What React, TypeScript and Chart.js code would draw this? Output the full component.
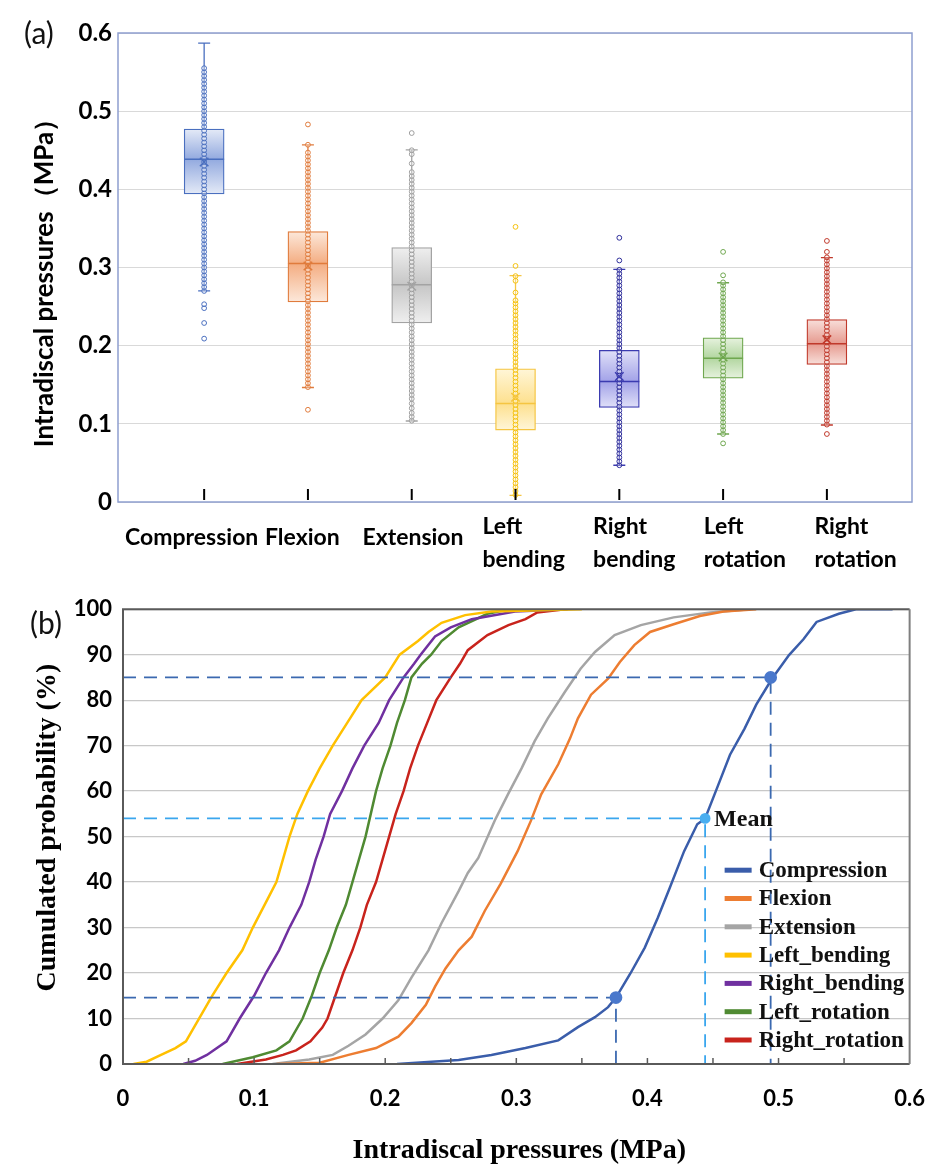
import React, { useEffect, useRef } from 'react';
import { Chart, registerables } from 'chart.js';
Chart.register(...registerables);

// ---------- Panel (a): box plots ----------
const categories = ['Compression', 'Flexion', 'Extension', 'Left bending', 'Right bending', 'Left rotation', 'Right rotation'];
const q1 = [0.394, 0.256, 0.229, 0.092, 0.121, 0.1585, 0.176];
const medians = [0.4385, 0.305, 0.278, 0.126, 0.154, 0.184, 0.2026];
const q3 = [0.477, 0.346, 0.3255, 0.1705, 0.194, 0.21, 0.2334];
const whiskerLo = [0.27, 0.1465, 0.1036, 0.0086, 0.047, 0.087, 0.0985];
const whiskerHi = [0.587, 0.457, 0.4505, 0.2895, 0.2977, 0.2805, 0.3126];
const means = [0.435, 0.302, 0.276, 0.134, 0.1606, 0.1854, 0.2077];

const ptsCompression = [0.209, 0.229, 0.248, 0.253, 0.27, 0.275, 0.28, 0.285, 0.29, 0.295, 0.3, 0.305, 0.31, 0.315, 0.32, 0.325, 0.33, 0.335, 0.34, 0.345, 0.35, 0.355, 0.36, 0.365, 0.37, 0.375, 0.38, 0.385, 0.39, 0.395, 0.4, 0.405, 0.41, 0.415, 0.42, 0.425, 0.43, 0.435, 0.44, 0.445, 0.45, 0.455, 0.46, 0.465, 0.47, 0.475, 0.48, 0.485, 0.49, 0.495, 0.5, 0.505, 0.51, 0.515, 0.52, 0.525, 0.53, 0.535, 0.54, 0.545, 0.55, 0.555];
const ptsFlexion = [0.118, 0.147, 0.152, 0.157, 0.162, 0.167, 0.172, 0.177, 0.182, 0.187, 0.192, 0.197, 0.202, 0.207, 0.212, 0.217, 0.222, 0.227, 0.232, 0.237, 0.242, 0.247, 0.252, 0.257, 0.262, 0.267, 0.272, 0.277, 0.282, 0.287, 0.292, 0.297, 0.302, 0.307, 0.312, 0.317, 0.322, 0.327, 0.332, 0.337, 0.342, 0.347, 0.352, 0.357, 0.362, 0.367, 0.372, 0.377, 0.382, 0.387, 0.392, 0.397, 0.402, 0.407, 0.412, 0.417, 0.422, 0.427, 0.432, 0.437, 0.442, 0.447, 0.457, 0.483];
const ptsExtension = [0.104, 0.109, 0.114, 0.12, 0.126, 0.132, 0.137, 0.142, 0.147, 0.152, 0.157, 0.162, 0.167, 0.172, 0.177, 0.182, 0.187, 0.192, 0.197, 0.202, 0.207, 0.212, 0.217, 0.222, 0.227, 0.232, 0.237, 0.242, 0.247, 0.252, 0.257, 0.262, 0.267, 0.272, 0.277, 0.282, 0.287, 0.292, 0.297, 0.302, 0.307, 0.312, 0.317, 0.322, 0.327, 0.332, 0.337, 0.342, 0.347, 0.352, 0.357, 0.362, 0.367, 0.372, 0.377, 0.382, 0.387, 0.392, 0.397, 0.402, 0.407, 0.412, 0.417, 0.422, 0.433, 0.445, 0.45, 0.472];
const ptsLeftBending = [0.009, 0.014, 0.019, 0.024, 0.029, 0.034, 0.039, 0.044, 0.049, 0.054, 0.059, 0.064, 0.069, 0.074, 0.079, 0.084, 0.089, 0.094, 0.099, 0.104, 0.109, 0.114, 0.119, 0.124, 0.129, 0.134, 0.139, 0.144, 0.149, 0.154, 0.159, 0.164, 0.169, 0.174, 0.179, 0.184, 0.189, 0.194, 0.199, 0.204, 0.209, 0.214, 0.219, 0.224, 0.229, 0.234, 0.239, 0.244, 0.249, 0.254, 0.258, 0.268, 0.283, 0.289, 0.302, 0.352];
const ptsRightBending = [0.047, 0.052, 0.057, 0.062, 0.067, 0.072, 0.077, 0.082, 0.087, 0.092, 0.097, 0.102, 0.107, 0.112, 0.117, 0.122, 0.127, 0.132, 0.137, 0.142, 0.147, 0.152, 0.157, 0.162, 0.167, 0.172, 0.177, 0.182, 0.187, 0.192, 0.197, 0.202, 0.207, 0.212, 0.217, 0.222, 0.227, 0.232, 0.237, 0.242, 0.247, 0.252, 0.257, 0.262, 0.267, 0.272, 0.277, 0.282, 0.287, 0.292, 0.297, 0.309, 0.338];
const ptsLeftRotation = [0.075, 0.087, 0.092, 0.097, 0.102, 0.107, 0.112, 0.117, 0.122, 0.127, 0.132, 0.137, 0.142, 0.147, 0.152, 0.157, 0.162, 0.167, 0.172, 0.177, 0.182, 0.187, 0.192, 0.197, 0.202, 0.207, 0.212, 0.217, 0.222, 0.227, 0.232, 0.237, 0.242, 0.247, 0.252, 0.257, 0.262, 0.267, 0.272, 0.277, 0.281, 0.29, 0.32];
const ptsRightRotation = [0.087, 0.099, 0.104, 0.109, 0.114, 0.119, 0.124, 0.129, 0.134, 0.139, 0.144, 0.149, 0.154, 0.159, 0.164, 0.169, 0.174, 0.179, 0.184, 0.189, 0.194, 0.199, 0.204, 0.209, 0.214, 0.219, 0.224, 0.229, 0.234, 0.239, 0.244, 0.249, 0.254, 0.259, 0.264, 0.269, 0.274, 0.279, 0.284, 0.289, 0.294, 0.299, 0.304, 0.309, 0.313, 0.32, 0.334];
const pointSets = [ptsCompression, ptsFlexion, ptsExtension, ptsLeftBending, ptsRightBending, ptsLeftRotation, ptsRightRotation];
const yTicksA = [0, 0.1, 0.2, 0.3, 0.4, 0.5, 0.6];
const yTitleA = 'Intradiscal pressures（MPa）';

// ---------- Panel (b): cumulative probability ----------
const cdfCompression = [[0.209, 0], [0.256, 0.9], [0.281, 2], [0.307, 3.5], [0.332, 5.2], [0.347, 8.1], [0.36, 10.3], [0.37, 12.5], [0.376, 14.6], [0.387, 19.9], [0.398, 25.6], [0.408, 32.2], [0.417, 38.7], [0.428, 46.8], [0.438, 52.7], [0.444, 54], [0.453, 60.6], [0.463, 68], [0.474, 73.7], [0.483, 79], [0.495, 84.7], [0.508, 89.9], [0.519, 93.4], [0.529, 97.2], [0.546, 99], [0.559, 100], [0.587, 100]];
const cdfFlexion = [[0.117, 0], [0.15, 0.3], [0.172, 2], [0.193, 3.5], [0.21, 6], [0.22, 9], [0.231, 13], [0.238, 17], [0.246, 21], [0.256, 25], [0.266, 28], [0.276, 33.7], [0.288, 39.6], [0.301, 46.8], [0.311, 53.4], [0.319, 59.3], [0.332, 65.9], [0.341, 71.6], [0.347, 76], [0.357, 81.2], [0.37, 84.7], [0.379, 88.4], [0.39, 92.1], [0.402, 95], [0.42, 96.7], [0.44, 98.5], [0.458, 99.5], [0.483, 100]];
const cdfExtension = [[0.114, 0], [0.142, 1], [0.16, 2], [0.172, 4], [0.185, 6.5], [0.198, 10], [0.21, 14], [0.22, 19], [0.233, 25], [0.243, 31], [0.256, 38], [0.263, 42], [0.271, 45.3], [0.284, 53.8], [0.294, 59.5], [0.304, 65], [0.314, 71], [0.324, 76], [0.337, 81.8], [0.349, 86.9], [0.36, 90.6], [0.375, 94.3], [0.395, 96.5], [0.42, 98.2], [0.448, 99.3], [0.478, 100]];
const cdfLeftBending = [[0.008, 0], [0.018, 0.5], [0.029, 2], [0.04, 3.5], [0.048, 5], [0.058, 10], [0.068, 15], [0.079, 20], [0.091, 25], [0.099, 30], [0.108, 35], [0.117, 40], [0.122, 45], [0.127, 50], [0.133, 55], [0.141, 60], [0.15, 65], [0.16, 70], [0.171, 75], [0.182, 80], [0.2, 85], [0.211, 90], [0.225, 93], [0.233, 95], [0.243, 97], [0.261, 98.7], [0.281, 99.5], [0.35, 100]];
const cdfRightBending = [[0.046, 0], [0.055, 0.7], [0.064, 2], [0.079, 5], [0.089, 10], [0.1, 15], [0.109, 20], [0.119, 25], [0.127, 30], [0.136, 35], [0.142, 40], [0.147, 45], [0.153, 50], [0.158, 55], [0.167, 60], [0.175, 65], [0.184, 70], [0.195, 75], [0.203, 80], [0.214, 85], [0.222, 88], [0.227, 90], [0.238, 94], [0.25, 96], [0.266, 97.8], [0.299, 99.5], [0.339, 100]];
const cdfLeftRotation = [[0.076, 0], [0.099, 1.5], [0.117, 3], [0.127, 5], [0.137, 10], [0.144, 15], [0.15, 20], [0.157, 25], [0.163, 30], [0.17, 35], [0.175, 40], [0.18, 45], [0.185, 50], [0.189, 55], [0.193, 60], [0.198, 65], [0.204, 70], [0.209, 75], [0.215, 80], [0.22, 85], [0.228, 88], [0.235, 90], [0.243, 93], [0.256, 96], [0.278, 99], [0.29, 99.7], [0.32, 100]];
const cdfRightRotation = [[0.087, 0], [0.109, 1], [0.122, 2], [0.132, 3], [0.143, 5], [0.152, 8], [0.156, 10], [0.162, 15], [0.168, 20], [0.175, 25], [0.181, 30], [0.186, 35], [0.193, 40], [0.198, 45], [0.203, 50], [0.208, 55], [0.214, 60], [0.219, 65], [0.225, 70], [0.232, 75], [0.239, 80], [0.25, 85], [0.257, 88], [0.263, 91], [0.278, 94.3], [0.294, 96.5], [0.307, 97.8], [0.316, 99.3], [0.337, 100]];
const seriesNames = ['Compression', 'Flexion', 'Extension', 'Left_bending', 'Right_bending', 'Left_rotation', 'Right_rotation'];
const cdfSets = [cdfCompression, cdfFlexion, cdfExtension, cdfLeftBending, cdfRightBending, cdfLeftRotation, cdfRightRotation];
const markerX = [0.376, 0.444, 0.494];
const markerP = [14.6, 54, 85];
const markerIsMean = [false, true, false];
const xTicksB = [0, 0.1, 0.2, 0.3, 0.4, 0.5, 0.6];
const minorTicksB = [0.05, 0.1, 0.15, 0.2, 0.25, 0.3, 0.35, 0.4, 0.45, 0.5, 0.55];
const xTitleB = 'Intradiscal pressures (MPa)';
const yTitleB = 'Cumulated probability (%)';

const SANS = 'Lato, "Open Sans", "Noto Sans", sans-serif';
const SERIF = '"Liberation Serif", "Times New Roman", serif';

const boxStyles = [
  { line: '#4a6fbf', light: '#e4eaf7', mid: '#93aadf', point: '#4a6fbf' },
  { line: '#e07b3c', light: '#fce8da', mid: '#f4ad82', point: '#e07b3c' },
  { line: '#a3a3a3', light: '#efefef', mid: '#c6c6c6', point: '#9e9e9e' },
  { line: '#f5c542', light: '#fff6d8', mid: '#fde08e', point: '#f5c20f' },
  { line: '#3b3bb0', light: '#e0e0f8', mid: '#a2a2e8', point: '#2e2e9a' },
  { line: '#6fa74f', light: '#e6f2de', mid: '#b2d6a0', point: '#6fa74f' },
  { line: '#c0392b', light: '#f8dfda', mid: '#e69a8f', point: '#c0392b' },
];
const lineColors = ['#3a5daa', '#ed7d31', '#a5a5a5', '#ffc000', '#7030a0', '#4f8a32', '#c8231c'];

const fmt = (v: any) => (Number(v) === 0 ? '0' : Number(v).toFixed(1));

function BoxChart() {
  const ref = useRef<HTMLCanvasElement>(null);
  useEffect(() => {
    const canvas = ref.current!;
    const boxPlugin = {
      id: 'boxExtras',
      beforeDatasetsDraw(chart: any) {
        const { ctx, scales: { x, y } } = chart;
        ctx.save();
        categories.forEach((_, i) => {
          const px = x.getPixelForValue(i);
          const top = y.getPixelForValue(whiskerHi[i]);
          const bot = y.getPixelForValue(whiskerLo[i]);
          ctx.strokeStyle = boxStyles[i].line;
          ctx.lineWidth = 1.3;
          ctx.beginPath();
          ctx.moveTo(px, top); ctx.lineTo(px, bot);
          ctx.moveTo(px - 6, top); ctx.lineTo(px + 6, top);
          ctx.moveTo(px - 6, bot); ctx.lineTo(px + 6, bot);
          ctx.stroke();
        });
        ctx.restore();
      },
      afterDatasetsDraw(chart: any) {
        const { ctx, scales: { x, y } } = chart;
        ctx.save();
        categories.forEach((_, i) => {
          const px = x.getPixelForValue(i);
          const py = y.getPixelForValue(medians[i]);
          ctx.strokeStyle = boxStyles[i].line;
          ctx.lineWidth = 1.5;
          ctx.beginPath();
          ctx.moveTo(px - 20, py); ctx.lineTo(px + 20, py);
          ctx.stroke();
        });
        ctx.restore();
      },
      afterDraw(chart: any) {
        const { ctx, chartArea: a, scales: { x } } = chart;
        ctx.save();
        ctx.strokeStyle = '#8e9fcf';
        ctx.lineWidth = 1.5;
        ctx.strokeRect(a.left, a.top, a.right - a.left, a.bottom - a.top);
        ctx.strokeStyle = '#000';
        ctx.lineWidth = 2;
        categories.forEach((_, i) => {
          const px = x.getPixelForValue(i);
          ctx.beginPath();
          ctx.moveTo(px, a.bottom - 2);
          ctx.lineTo(px, a.bottom - 13);
          ctx.stroke();
        });
        ctx.fillStyle = '#000';
        ctx.font = `bold 23px ${SANS}`;
        ctx.textBaseline = 'middle';
        ctx.textAlign = 'left';
        categories.forEach((c, i) => {
          const lines = c.split(' ');
          const cx = x.getPixelForValue(i * 1.066 - 0.12);
          const w = Math.max(...lines.map((l) => ctx.measureText(l).width));
          const x0 = cx - w / 2;
          if (lines.length === 1) ctx.fillText(lines[0], x0, a.bottom + 36);
          else lines.forEach((l, k) => ctx.fillText(l, x0, a.bottom + 25 + k * 33));
        });
        // y title
        ctx.save();
        ctx.translate(45, (a.top + a.bottom) / 2 + 9);
        ctx.rotate(-Math.PI / 2);
        ctx.textAlign = 'center';
        ctx.font = `bold 26px ${SANS}`;
        ctx.fillText(yTitleA, 0, 0);
        ctx.restore();
        ctx.restore();
      },
    };
    const chart = new Chart(canvas, {
      type: 'bar',
      data: {
        datasets: [
          {
            type: 'bar',
            label: 'IQR',
            data: categories.map((_, i) => ({ x: i, y: [q1[i], q3[i]] })) as any,
            backgroundColor: (c: any) => {
              const i = c.dataIndex ?? 0;
              const st = boxStyles[i] || boxStyles[0];
              const sy = c.chart.scales?.y;
              if (c.type !== 'data' || !sy) return st.mid;
              const top = sy.getPixelForValue(q3[i]);
              const bot = sy.getPixelForValue(q1[i]);
              if (!isFinite(top) || !isFinite(bot) || top === bot) return st.mid;
              const mid = (sy.getPixelForValue(medians[i]) - top) / (bot - top);
              const g = c.chart.ctx.createLinearGradient(0, top, 0, bot);
              g.addColorStop(0, st.light);
              g.addColorStop(Math.min(Math.max(mid, 0.05), 0.95), st.mid);
              g.addColorStop(1, st.light);
              return g;
            },
            borderColor: boxStyles.map((s) => s.line),
            borderWidth: 1.3,
            borderSkipped: false,
            barThickness: 40,
            order: 3,
          } as any,
          ...categories.map((c, i) => ({
            type: 'scatter',
            label: c,
            data: pointSets[i].map((v) => ({ x: i, y: v })),
            pointRadius: 2.4,
            pointBorderWidth: 1,
            pointBorderColor: boxStyles[i].point,
            pointBackgroundColor: 'rgba(255,255,255,0.3)',
            order: 2,
          } as any)),
          {
            type: 'scatter',
            label: 'Mean',
            data: means.map((m, i) => ({ x: i, y: m })),
            pointStyle: 'crossRot',
            pointRadius: 6,
            pointBorderWidth: 1.5,
            pointBorderColor: boxStyles.map((s) => s.line),
            order: 1,
          } as any,
        ],
      },
      options: {
        responsive: false,
        animation: false,
        layout: { padding: { top: 33, right: 27, left: 0, bottom: 0 } },
        plugins: { legend: { display: false }, tooltip: { enabled: false } },
        scales: {
          x: {
            type: 'linear', min: -0.83, max: 6.82, offset: false,
            grid: { display: false }, border: { display: false },
            ticks: { display: false },
            afterFit: (s: any) => { s.height = 83; },
          },
          y: {
            type: 'linear', min: 0, max: 0.6,
            afterBuildTicks: (s: any) => { s.ticks = yTicksA.map((v) => ({ value: v })); },
            grid: { color: '#d9d9d9', lineWidth: 1, drawTicks: false },
            border: { display: false },
            ticks: { padding: 6, color: '#000', font: { family: SANS, size: 24, weight: 'bold' }, callback: fmt },
            afterFit: (s: any) => { s.width = 118; },
          },
        },
      } as any,
      plugins: [boxPlugin],
    });
    return () => chart.destroy();
  }, []);
  return <canvas ref={ref} width={939} height={585} style={{ position: 'absolute', left: 0, top: 0, width: 939, height: 585 }} />;
}

function CdfChart() {
  const ref = useRef<HTMLCanvasElement>(null);
  useEffect(() => {
    const canvas = ref.current!;
    const cdfPlugin = {
      id: 'cdfExtras',
      afterDraw(chart: any) {
        const { ctx, chartArea: a, scales: { x, y } } = chart;
        ctx.save();
        // frame
        ctx.lineWidth = 2;
        ctx.strokeStyle = '#5a5a5a';
        ctx.beginPath();
        ctx.moveTo(a.right, a.top); ctx.lineTo(a.left, a.top); ctx.lineTo(a.left, a.bottom); ctx.lineTo(a.right, a.bottom);
        ctx.stroke();
        ctx.strokeStyle = '#7f7f7f';
        ctx.beginPath(); ctx.moveTo(a.right, a.top); ctx.lineTo(a.right, a.bottom); ctx.stroke();
        // inner minor ticks
        ctx.strokeStyle = '#5a5a5a';
        ctx.lineWidth = 1.5;
        minorTicksB.forEach((v) => {
          const px = x.getPixelForValue(v);
          ctx.beginPath(); ctx.moveTo(px, a.bottom); ctx.lineTo(px, a.bottom - 6); ctx.stroke();
        });
        // Mean label
        ctx.fillStyle = '#111';
        ctx.font = `bold 24px ${SERIF}`;
        ctx.textBaseline = 'middle';
        ctx.textAlign = 'left';
        markerX.forEach((mx, i) => {
          if (markerIsMean[i]) ctx.fillText('Mean', x.getPixelForValue(mx) + 9, y.getPixelForValue(markerP[i]) + 1);
        });
        // legend
        ctx.font = `bold 23px ${SERIF}`;
        const rowH = 28.3;
        const lx = a.right - 185;
        const ly0 = a.bottom - 24 - rowH * (seriesNames.length - 1);
        seriesNames.forEach((n, i) => {
          const yy = ly0 + i * rowH;
          ctx.strokeStyle = lineColors[i];
          ctx.lineWidth = 5;
          ctx.beginPath(); ctx.moveTo(lx, yy); ctx.lineTo(lx + 27, yy); ctx.stroke();
          ctx.fillStyle = '#111';
          ctx.fillText(n, lx + 34, yy + 1);
        });
        // x title
        ctx.font = `bold 28px ${SERIF}`;
        ctx.textAlign = 'center';
        ctx.textBaseline = 'alphabetic';
        ctx.fillStyle = '#000';
        ctx.fillText(xTitleB, (a.left + a.right) / 2 + 3, a.bottom + 94);
        // y title
        ctx.save();
        ctx.translate(48, (a.top + a.bottom) / 2 - 9);
        ctx.rotate(-Math.PI / 2);
        ctx.textBaseline = 'middle';
        ctx.fillText(yTitleB, 0, 0);
        ctx.restore();
        ctx.restore();
      },
    };
    const curveSets = cdfSets.map((set, i) => ({
      type: 'line',
      label: seriesNames[i],
      data: set.map(([vx, p]) => ({ x: vx, y: p })),
      borderColor: lineColors[i],
      borderWidth: 2.5,
      pointRadius: 0,
      tension: 0,
      fill: false,
      order: 3,
    }));
    const dashSets = markerX.map((mx, i) => ({
      type: 'line',
      label: 'guide' + i,
      data: [{ x: 0, y: markerP[i] }, { x: mx, y: markerP[i] }, { x: mx, y: 0 }],
      borderColor: markerIsMean[i] ? '#3aa6ee' : '#3b69b0',
      borderWidth: 1.8,
      borderDash: [13, 8],
      pointRadius: [0, markerIsMean[i] ? 4.5 : 5.5, 0],
      pointBackgroundColor: markerIsMean[i] ? '#49aef0' : '#4a78cc',
      pointBorderColor: markerIsMean[i] ? '#49aef0' : '#4a78cc',
      tension: 0,
      fill: false,
      order: 1,
    }));
    const chart = new Chart(canvas, {
      type: 'line',
      data: { datasets: [...curveSets, ...dashSets] as any },
      options: {
        responsive: false,
        animation: false,
        layout: { padding: { top: 22, right: 25, left: 0, bottom: 0 } },
        plugins: { legend: { display: false }, tooltip: { enabled: false } },
        scales: {
          x: {
            type: 'linear', min: 0, max: 0.6,
            afterBuildTicks: (s: any) => { s.ticks = xTicksB.map((v) => ({ value: v })); },
            grid: { display: false }, border: { display: false },
            ticks: { padding: 14, color: '#000', font: { family: SANS, size: 22, weight: 'bold' }, callback: fmt, maxRotation: 0, autoSkip: false },
            afterFit: (s: any) => { s.height = 107; },
          },
          y: {
            type: 'linear', min: 0, max: 100,
            ticks: { stepSize: 10, padding: 11, color: '#000', font: { family: SANS, size: 22, weight: 'bold' } },
            grid: { color: '#c8c8c8', lineWidth: 1.3, drawTicks: false },
            border: { display: false },
            afterFit: (s: any) => { s.width = 123; },
          },
        },
      } as any,
      plugins: [cdfPlugin],
    });
    return () => chart.destroy();
  }, []);
  return <canvas ref={ref} width={939} height={586} style={{ position: 'absolute', left: 0, top: 585, width: 939, height: 586 }} />;
}

export default function App() {
  return (
    <div style={{ position: 'absolute', left: 0, top: 0, width: 939, height: 1171, background: '#fff', overflow: 'hidden' }}>
      <BoxChart />
      <CdfChart />
      <div style={{ position: 'absolute', left: 24, top: 14, fontFamily: SANS, fontSize: 30, color: '#111', lineHeight: '36px' }}>(a)</div>
      <div style={{ position: 'absolute', left: 30, top: 604, fontFamily: SANS, fontSize: 30, color: '#111', lineHeight: '36px' }}>(b)</div>
    </div>
  );
}
